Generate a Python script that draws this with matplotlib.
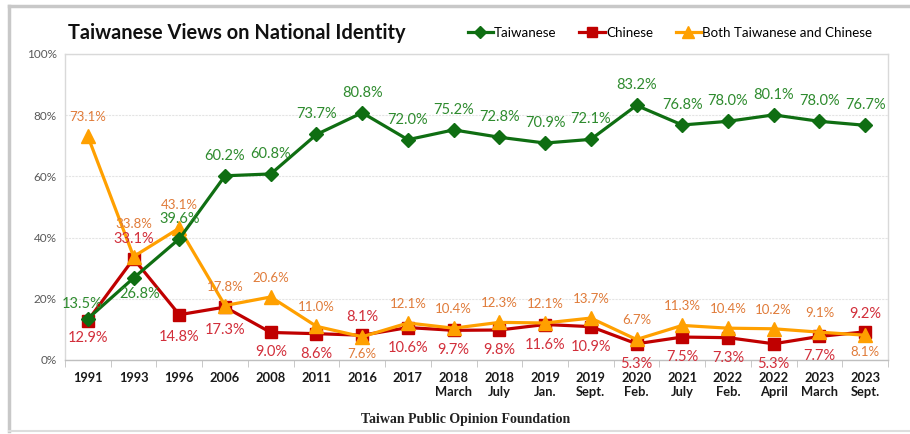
import matplotlib
matplotlib.use("Agg")
import matplotlib.pyplot as plt
from matplotlib.lines import Line2D
import numpy as np

categories = ["1991", "1993", "1996", "2006", "2008", "2011", "2016", "2017",
              "2018\nMarch", "2018\nJuly", "2019\nJan.", "2019\nSept.",
              "2020\nFeb.", "2021\nJuly", "2022\nFeb.", "2022\nApril",
              "2023\nMarch", "2023\nSept."]
taiwanese = [13.5, 26.8, 39.6, 60.2, 60.8, 73.7, 80.8, 72.0, 75.2, 72.8,
             70.9, 72.1, 83.2, 76.8, 78.0, 80.1, 78.0, 76.7]
chinese = [12.9, 33.1, 14.8, 17.3, 9.0, 8.6, 8.1, 10.6, 9.7, 9.8,
           11.6, 10.9, 5.3, 7.5, 7.3, 5.3, 7.7, 9.2]
both = [73.1, 33.8, 43.1, 17.8, 20.6, 11.0, 7.6, 12.1, 10.4, 12.3,
        12.1, 13.7, 6.7, 11.3, 10.4, 10.2, 9.1, 8.1]
yticks = [0, 20, 40, 60, 80, 100]

# label placement offsets (pixels: dx, dy)
tw_off = [(-6, 15)] + [(6, -16)] + [(0, 20)] * 16
cn_off = [(0, -17), (0, 20), (0, -22), (0, -23), (0, -20), (0, -20), (0, 18),
          (0, -20), (0, -20), (0, -20), (0, -20), (0, -20), (0, -20),
          (0, -20), (0, -20), (0, -20), (0, -20), (0, 18)]
bo_off = [(0, 19), (0, 33), (0, 23), (0, 19), (0, 19), (0, 19), (0, -17),
          (0, 19), (0, 19), (0, 19), (0, 19), (0, 19), (0, 19), (0, 19),
          (0, 19), (0, 19), (0, 19), (0, -17)]

GREEN = "#0f6e12"
RED = "#c00000"
ORANGE = "#ffa000"
GREEN_T = "#2e8b2e"
RED_T = "#d22e3a"
ORANGE_T = "#e07b39"

plt.rcParams['font.family'] = ['Lato', 'DejaVu Sans']

fig = plt.figure(figsize=(9.10, 4.34), dpi=100)
ax = fig.add_axes([65/910, 1-360/434, (888-65)/910, (360-54)/434])

x = np.arange(len(categories)) + 0.5
ax.plot(x, chinese, color=RED, lw=2.3, marker='s', ms=8.5, zorder=3)
ax.plot(x, both, color=ORANGE, lw=2.3, marker='^', ms=10, zorder=4)
ax.plot(x, taiwanese, color=GREEN, lw=2.3, marker='D', ms=7, zorder=5)

def labels(vals, offs, color, size):
    for xi, v, (dx, dy) in zip(x, vals, offs):
        ax.annotate(f"{v:.1f}%", (xi, v), xytext=(dx * 0.72, dy * 0.72),
                    textcoords='offset points', ha='center', va='center',
                    color=color, fontsize=size, zorder=6)

labels(taiwanese, tw_off, GREEN_T, 10.5)
labels(chinese, cn_off, RED_T, 10.5)
labels(both, bo_off, ORANGE_T, 9.5)

ax.set_xlim(0, len(categories))
ax.set_ylim(0, 100)
ax.set_yticks(yticks)
ax.set_yticklabels([f"{t}%" for t in yticks], color="#595959", fontsize=8.5)
ax.set_xticks(x)
ax.set_xticklabels(categories, fontsize=9.3, fontweight='bold', color="#1a1a1a",
                   linespacing=1.2)
ax.set_xticks(np.arange(len(categories) + 1), minor=True)
ax.tick_params(axis='x', which='major', length=0, pad=9)
ax.tick_params(axis='x', which='minor', length=5, color="#bfbfbf")
ax.tick_params(axis='y', length=0, pad=6)
ax.grid(axis='y', color="#e4e4e4", lw=0.8, ls=(0, (2, 1)))
ax.set_axisbelow(True)
for s in ['top', 'right', 'left']:
    ax.spines[s].set_color("#d9d9d9")
    ax.spines[s].set_linewidth(1.0)
ax.spines['bottom'].set_color("#bfbfbf")
ax.spines['bottom'].set_linewidth(1.0)

fig.text(68/910, 1-33/434, "Taiwanese Views on National Identity",
         fontsize=14.4, fontweight='bold', ha='left', va='center', color="#111111")

handles = [Line2D([], [], color=GREEN, lw=2.3, marker='D', ms=6),
           Line2D([], [], color=RED, lw=2.3, marker='s', ms=7),
           Line2D([], [], color=ORANGE, lw=2.3, marker='^', ms=8)]
fig.legend(handles, ["Taiwanese", "Chinese", "Both Taiwanese and Chinese"],
           loc='center', bbox_to_anchor=(670/910, 1-33/434), ncol=3,
           frameon=False, fontsize=9.6, handlelength=1.9, handletextpad=0.1,
           columnspacing=1.7)

fig.text(466/910, 1-420/434, "Taiwan Public Opinion Foundation",
         family='Liberation Serif', fontweight='bold', fontsize=10,
         ha='center', va='center', color="#222222")

# outer frame
fc = "#c8c8c8"
fig.add_artist(Line2D([9/910, 9/910], [1-431/434, 1-6/434], color=fc, lw=2.5,
                      transform=fig.transFigure))
fig.add_artist(Line2D([9/910, 1.0], [1-6/434, 1-6/434], color=fc, lw=2.5,
                      transform=fig.transFigure))
fig.add_artist(Line2D([9/910, 1.0], [1-431/434, 1-431/434], color="#dddddd", lw=1.5,
                      transform=fig.transFigure))

fig.savefig("out.png", dpi=100)
